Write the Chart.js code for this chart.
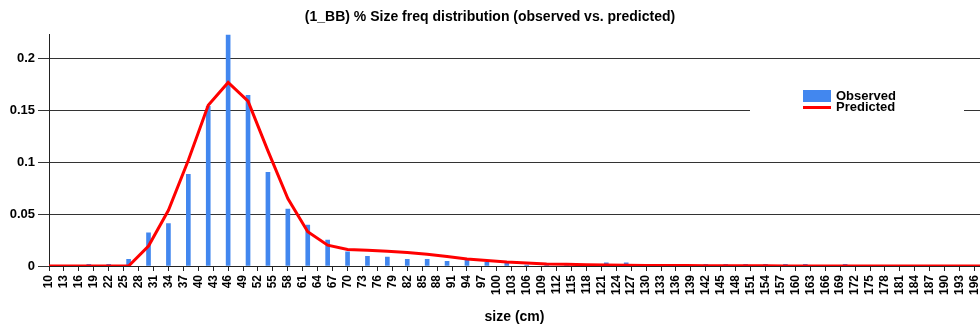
<!DOCTYPE html>
<html>
<head>
<meta charset="utf-8">
<script src="https://cdn.jsdelivr.net/npm/chart.js@4.4.1/dist/chart.umd.min.js"></script>
<style>
  html, body { margin: 0; padding: 0; background: #fff; }
  #wrap { width: 980px; height: 331px; }
</style>
</head>
<body>
<div id="wrap"><canvas id="chart"></canvas></div>
<script>
const sizes = [10, 14, 18, 22, 26, 30, 34, 38, 42, 46, 50, 54, 58, 62, 66, 70,
  74, 78, 82, 86, 90, 94, 98, 102, 106, 110, 114, 118, 122, 126, 130, 134,
  138, 142, 146, 150, 154, 158, 162, 166, 170, 174, 178, 182, 186, 190, 194, 198];

const observed = [0, 0, 0.0015, 0.0015, 0.0065, 0.032, 0.041, 0.0885, 0.154, 0.228,
  0.1646, 0.0904, 0.0548, 0.0395, 0.025, 0.0137, 0.0094, 0.0085, 0.0065, 0.0065,
  0.0046, 0.0055, 0.0035, 0.0026, 0.001, 0.001, 0.0025, 0.001, 0.003, 0.003,
  0.001, 0.0015, 0.0015, 0.0015, 0.0015, 0.0015, 0.0015, 0.0015, 0.0015, 0,
  0.0015, 0, 0, 0, 0, 0, 0, 0];

const predicted = [0, 0, 0, 0, 0, 0.0193, 0.0537, 0.102, 0.155, 0.177,
  0.159, 0.111, 0.065, 0.0331, 0.0201, 0.0159, 0.0153, 0.0143, 0.013, 0.0114,
  0.0091, 0.0068, 0.0052, 0.0038, 0.0029, 0.002, 0.0016, 0.0013, 0.001, 0.0008,
  0.0006, 0.0005, 0.0004, 0.0003, 0.0003, 0.0002, 0.0002, 0.0001, 0, 0,
  0, 0, 0, 0, 0, 0, 0, 0];

const xTicks = [10, 13, 16, 19, 22, 25, 28, 31, 34, 37, 40, 43, 46, 49, 52, 55,
  58, 61, 64, 67, 70, 73, 76, 79, 82, 85, 88, 91, 94, 97, 100, 103, 106, 109,
  112, 115, 118, 121, 124, 127, 130, 133, 136, 139, 142, 145, 148, 151, 154,
  157, 160, 163, 166, 169, 172, 175, 178, 181, 184, 187, 190, 193, 196];

const yTicks = [0, 0.05, 0.1, 0.15, 0.2];

const BLUE = '#4287ef';
const RED = '#ff0000';
const FONT = '"Liberation Sans", Arial, sans-serif';

// legend box sits inside the plot, covering the grid line behind it
const boxLegend = {
  id: 'boxLegend',
  afterDraw(chart) {
    const ctx = chart.ctx;
    ctx.save();
    ctx.fillStyle = '#fff';
    ctx.fillRect(750, 84, 214, 32);
    ctx.fillStyle = BLUE;
    ctx.fillRect(803, 90, 28, 12);
    ctx.strokeStyle = RED;
    ctx.lineWidth = 3;
    ctx.beginPath();
    ctx.moveTo(803, 107.5);
    ctx.lineTo(831, 107.5);
    ctx.stroke();
    ctx.fillStyle = '#000';
    ctx.font = 'bold 13px ' + FONT;
    ctx.textBaseline = 'alphabetic';
    ctx.fillText('Observed', 836, 100);
    ctx.fillText('Predicted', 836, 111);
    ctx.restore();
  }
};

new Chart(document.getElementById('chart'), {
  type: 'bar',
  data: {
    datasets: [
      {
        type: 'bar',
        label: 'Observed',
        data: sizes.map((s, i) => ({ x: s, y: observed[i] })),
        backgroundColor: BLUE,
        borderWidth: 0,
        barThickness: 4,
        order: 2,
      },
      {
        type: 'line',
        label: 'Predicted',
        data: sizes.map((s, i) => ({ x: s, y: predicted[i] })),
        borderColor: RED,
        borderWidth: 3,
        pointRadius: 0,
        tension: 0,
        fill: false,
        order: 1,
      },
    ],
  },
  options: {
    responsive: true,
    maintainAspectRatio: false,
    animation: false,
    layout: { padding: 0 },
    plugins: {
      legend: { display: false },
      tooltip: { enabled: false },
      title: {
        display: true,
        text: '(1_BB) % Size freq distribution (observed vs. predicted)',
        color: '#000',
        font: { family: FONT, size: 14, weight: 'bold' },
        padding: { top: 9, bottom: 9 },
      },
    },
    scales: {
      x: {
        type: 'linear',
        min: 10,
        max: 197.1,
        offset: false,
        afterFit: (axis) => {
          axis.height = 65;
          axis.paddingLeft = 0;
          axis.paddingRight = 0;
        },
        afterBuildTicks: (axis) => { axis.ticks = xTicks.map(v => ({ value: v })); },
        grid: {
          drawOnChartArea: false,
          drawTicks: true,
          tickLength: 5,
          color: '#222',
          offset: false,
        },
        border: { display: true, color: '#222', width: 1 },
        ticks: {
          autoSkip: false,
          minRotation: 90,
          maxRotation: 90,
          padding: 4,
          color: '#000',
          font: { family: FONT, size: 12, weight: 'bold' },
          callback: (v) => String(v),
        },
        title: {
          display: true,
          text: 'size (cm)',
          color: '#000',
          font: { family: FONT, size: 14, weight: 'bold' },
          padding: { top: 0, bottom: 5 },
        },
      },
      y: {
        min: 0,
        max: 0.223,
        afterFit: (axis) => {
          axis.width = 49;
          axis.paddingTop = 0;
          axis.paddingBottom = 0;
        },
        afterBuildTicks: (axis) => { axis.ticks = yTicks.map(v => ({ value: v })); },
        grid: {
          color: '#333',
          tickLength: 11,
        },
        border: { display: true, color: '#222', width: 1 },
        ticks: {
          padding: 3,
          color: '#000',
          font: { family: FONT, size: 13, weight: 'bold' },
          callback: (v) => String(v),
        },
      },
    },
  },
  plugins: [boxLegend],
});
</script>
</body>
</html>
